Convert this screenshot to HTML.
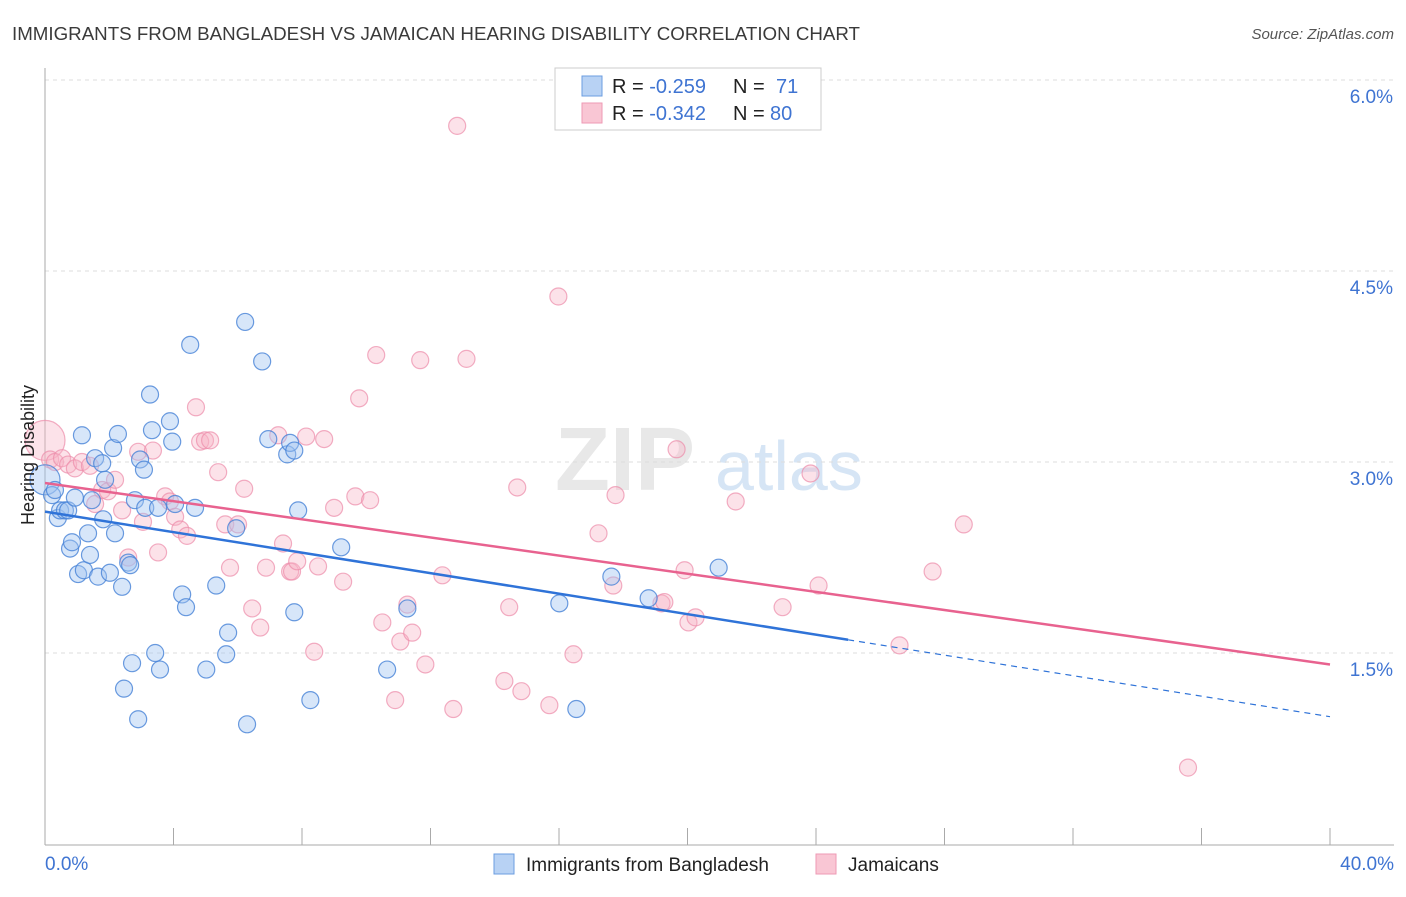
<!DOCTYPE html>
<html><head><meta charset="utf-8"><style>
body{margin:0;background:#fff;font-family:"Liberation Sans",sans-serif;}
svg text{font-family:"Liberation Sans",sans-serif;}
</style></head><body>
<svg id="chart" width="1406" height="892" xmlns="http://www.w3.org/2000/svg">
<text x="12" y="40" font-size="18" fill="#3a3a3a" textLength="848" lengthAdjust="spacingAndGlyphs">IMMIGRANTS FROM BANGLADESH VS JAMAICAN HEARING DISABILITY CORRELATION CHART</text>
<text x="1394" y="39" font-size="15" fill="#555" font-style="italic" text-anchor="end">Source: ZipAtlas.com</text>
<g><text x="555" y="490" font-size="90" fill="#e8e8e8" font-family="Liberation Serif" font-weight="bold">ZIP</text><text x="715" y="490" font-size="70" fill="#d6e5f5">atlas</text></g>
<g id="grid"></g><g id="axes"></g>
<g id="pts"></g><g id="lines"></g>
<text transform="translate(34,455) rotate(-90)" font-size="18" fill="#222" text-anchor="middle">Hearing Disability</text>
<g>
<rect x="555" y="68" width="266" height="62" fill="#fff" stroke="#ccc"/>
<rect x="582" y="76" width="20" height="20" fill="#b8d2f4" stroke="#6b9de0"/>
<rect x="582" y="103" width="20" height="20" fill="#f9c6d4" stroke="#ee9ab4"/>
<text x="612" y="93" font-size="20" fill="#222">R = <tspan fill="#3f74d2">-0.259</tspan></text>
<text x="733" y="93" font-size="20" fill="#222">N = </text><text x="776" y="93" font-size="20" fill="#3f74d2">71</text>
<text x="612" y="120" font-size="20" fill="#222">R = <tspan fill="#3f74d2">-0.342</tspan></text>
<text x="733" y="120" font-size="20" fill="#222">N = </text><text x="770" y="120" font-size="20" fill="#3f74d2">80</text>
</g>
<g>
<rect x="494" y="854" width="20" height="20" fill="#b8d2f4" stroke="#6b9de0"/>
<text x="526" y="871" font-size="19" fill="#222">Immigrants from Bangladesh</text>
<rect x="816" y="854" width="20" height="20" fill="#f9c6d4" stroke="#ee9ab4"/>
<text x="848" y="871" font-size="19" fill="#222">Jamaicans</text>
</g>
</svg>
<script>
const blueX=[0,.22,.31,.40,.47,.62,.72,.78,.84,.93,1.03,1.15,1.21,1.34,1.40,1.46,1.56,1.65,1.78,1.81,1.87,2.02,2.12,2.18,2.27,2.40,2.46,2.59,2.65,2.71,2.80,2.90,2.96,3.08,3.12,3.27,3.33,3.43,3.52,3.58,3.89,3.96,4.05,4.27,4.39,4.52,4.67,5.02,5.33,5.64,5.70,5.95,6.23,6.29,6.76,6.95,7.54,7.63,7.76,7.76,7.88,8.26,9.22,10.65,11.28,16.01,16.54,17.63,18.79,20.97];
const blueY=[2.86,2.74,2.78,2.56,2.62,2.62,2.62,2.32,2.37,2.72,2.12,3.21,2.15,2.44,2.27,2.70,3.03,2.10,2.99,2.55,2.86,2.13,3.11,2.44,3.22,2.02,1.22,2.21,2.19,1.42,2.70,0.98,3.02,2.94,2.64,3.53,3.25,1.50,2.64,1.37,3.32,3.16,2.67,1.96,1.86,3.92,2.64,1.37,2.03,1.49,1.66,2.48,4.10,0.94,3.79,3.18,3.06,3.15,3.09,1.82,2.62,1.13,2.33,1.37,1.85,1.89,1.06,2.10,1.93,2.17];
const pinkX=[0,.16,.31,.53,.72,.93,1.15,1.40,1.56,1.78,1.96,2.18,2.40,2.59,2.90,3.05,3.36,3.52,3.74,3.89,4.05,4.21,4.42,4.70,4.83,4.98,5.14,5.39,5.61,5.76,6.01,6.20,6.45,6.70,6.88,7.26,7.41,7.63,7.69,7.85,8.13,8.38,8.50,8.69,9.00,9.28,9.66,9.78,10.12,10.31,10.50,10.90,11.06,11.28,11.43,11.68,11.84,12.37,12.71,12.83,13.12,14.30,14.45,14.70,14.83,15.70,15.98,16.45,17.23,17.69,17.76,19.19,19.28,19.66,19.91,20.03,20.25,21.50,22.96,23.83,24.08,26.60,27.63,28.60,35.58];
const pinkY=[3.17,3.02,3.00,3.03,2.98,2.95,3.00,2.97,2.67,2.78,2.77,2.86,2.62,2.25,3.08,2.53,3.09,2.29,2.73,2.69,2.57,2.47,2.42,3.43,3.16,3.17,3.17,2.92,2.51,2.17,2.51,2.79,1.85,1.70,2.17,3.21,2.36,2.14,2.14,2.22,3.20,1.51,2.18,3.18,2.64,2.06,2.73,3.50,2.70,3.84,1.74,1.13,1.59,1.88,1.66,3.80,1.41,2.11,1.06,5.64,3.81,1.28,1.86,2.80,1.20,1.09,4.30,1.49,2.44,2.03,2.74,1.89,1.90,3.10,2.15,1.74,1.78,2.69,1.86,2.91,2.03,1.56,2.14,2.51,0.60];
const yTicks=[1.5,3.0,4.5,6.0];
const yTickLabels=["1.5%","3.0%","4.5%","6.0%"];
const xTicks=[0,4,8,12,16,20,24,28,32,36,40];
const blueTrend=[2.61,1.00];
const pinkTrend=[2.835,1.41];
const blueSolidEnd=25;

const NS="http://www.w3.org/2000/svg";
const X=v=>45+v*32.125, Y=v=>844-v*127.33;
function mk(t,a,p){const e=document.createElementNS(NS,t);for(const k in a)e.setAttribute(k,a[k]);p.appendChild(e);return e;}
const grid=document.getElementById('grid'),axes=document.getElementById('axes');
yTicks.forEach((t,i)=>{
  const l=mk('line',{x1:45,x2:1394,y1:Y(t),y2:Y(t),stroke:'#ddd','stroke-dasharray':'4,4'},grid);
  
  
  const tx=mk('text',{x:1393,y:Y(t)+23,'font-size':19,fill:'#3f74d2','text-anchor':'end'},axes);
  tx.textContent=yTickLabels[i];
  
  
});
const ya=mk('line',{x1:45,x2:45,y1:68,y2:845,stroke:'#aaa'},axes);


const xa=mk('line',{x1:45,x2:1394,y1:845,y2:845,stroke:'#aaa'},axes);


xTicks.forEach(t=>{
  const l=mk('line',{x1:X(t),x2:X(t),y1:828,y2:845,stroke:'#aaa'},axes);
  
  
});
[[0,'0.0%','start',45],[40,'40.0%','end',1394]].forEach(d=>{
  const tx=mk('text',{x:d[3],y:870,'font-size':19,fill:'#3f74d2','text-anchor':d[2]},axes);
  tx.textContent=d[1];
  
  
});
const pts=document.getElementById('pts');
function draw(xs,ys,fill,stroke,name,bigR){
  xs.forEach((x,i)=>{
    const c=mk('circle',{cx:X(x),cy:Y(ys[i]),r:i===0?bigR:8.5,fill:fill,stroke:stroke,'stroke-width':1.2},pts);
    
    
  });
}
draw(pinkX,pinkY,'rgba(246,178,198,0.38)','rgba(236,140,170,0.7)','jamaicans-point',20);
draw(blueX,blueY,'rgba(160,196,240,0.42)','rgba(70,130,215,0.8)','bangladesh-point',15);
const lines=document.getElementById('lines');
const lerp=(t,x)=>t[0]+(t[1]-t[0])*x/40;
const b1=mk('line',{x1:X(0),y1:Y(blueTrend[0]),x2:X(blueSolidEnd),y2:Y(lerp(blueTrend,blueSolidEnd)),stroke:'#2f73d8','stroke-width':2.5},lines);


const b2=mk('line',{x1:X(blueSolidEnd),y1:Y(lerp(blueTrend,blueSolidEnd)),x2:X(40),y2:Y(blueTrend[1]),stroke:'#2f73d8','stroke-width':1.2,'stroke-dasharray':'6,5'},lines);


const p1=mk('line',{x1:X(0),y1:Y(pinkTrend[0]),x2:X(40),y2:Y(pinkTrend[1]),stroke:'#e8628f','stroke-width':2.5},lines);


</script>
</body></html>
